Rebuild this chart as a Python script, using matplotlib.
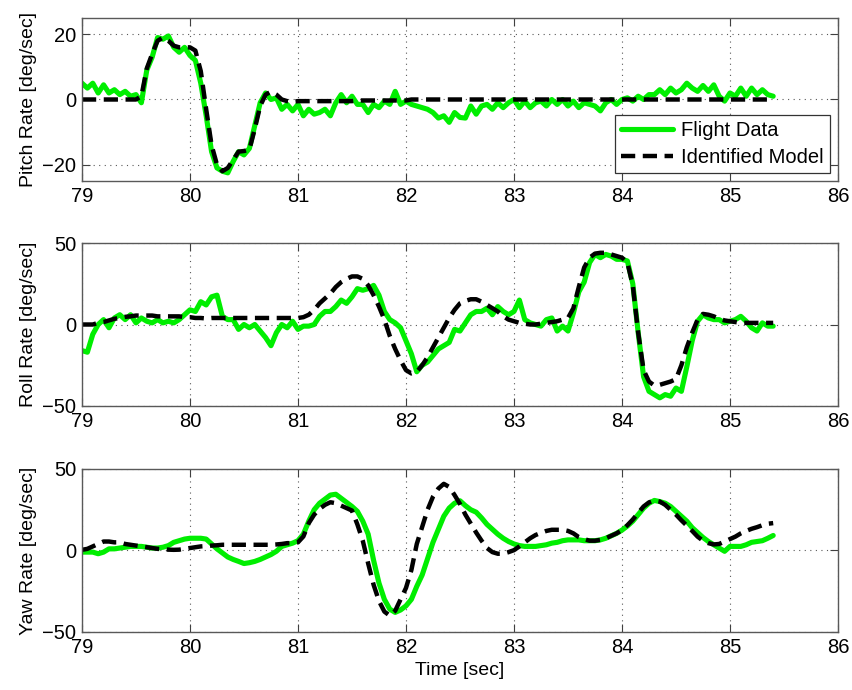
import numpy as np
import matplotlib
matplotlib.use('Agg')
import matplotlib.pyplot as plt

plt.rcParams['font.family'] = ['Liberation Sans', 'DejaVu Sans']

# 采样起点与间隔（秒）
t0 = 79.0
dt = 0.05

# 俯仰角速度 —— 飞行数据 / 辨识模型，每行 0.5 s
pitch_flight = [
    5, 3.5, 5, 2, 4.5, 2, 3, 1.5, 2.5, 1,
    1.5, -1, 9, 13, 19, 18.5, 19.5, 16, 14.5, 16,
    13.5, 12, 5, -5, -16, -21, -22, -22.5, -19, -16,
    -17, -15, -8, -1, 2, 0, 0.5, -3, -1.5, -3.5,
    -1.5, -5, -3, -4.5, -4, -3, -5, -1, 1.5, -1,
    1, -1.5, -1.5, -4, -1.5, -2.5, -0.5, -1.5, 2.5, -1.5,
    -0.5, -1.5, -2, -2.5, -3, -4, -5.7, -5, -7, -4,
    -5.5, -5.7, -2, -4.5, -2, -1.5, -3, -1, -2.5, -1,
    0, -2.5, -0.5, -2.5, -1, -0.5, -2, 0, -1.5, 0,
    -2, -0.5, -2.5, -1, -1.5, -2, -3.5, -1, 0, -1.5,
    0, 0.5, -0.5, 1, 0, 1.5, 1.5, 3, 1.5, 3.5,
    2, 3, 5, 3.5, 2.5, 4.3, 2.5, 4.5, 1, -0.5,
    2, 1, 3.5, 1, 3.5, 1.5, 3, 1.5, 1,
]
pitch_model = [
    0, 0, 0, 0, 0, 0, 0, 0, 0, 0,
    0, 1, 9.5, 14, 18, 19, 18, 16.5, 16, 16,
    16, 15, 8.7, -3, -14, -20, -22, -21, -18.5, -16,
    -15.8, -15.4, -9, -2, 1.5, 2.4, 1.5, 0, -0.5, -0.7,
    -0.5, -0.5, -0.5, -0.5, -0.5, -0.5, -0.5, -0.5, -0.5, -0.5,
    -0.5, -0.3, -0.3, -0.3, -0.3, -0.3, -0.3, -0.3, -0.3, -0.3,
    -0.3, 0, 0, 0, 0, 0, 0, 0, 0, 0,
    0, 0, 0, 0, 0, 0, 0, 0, 0, 0,
    0, 0, 0, 0, 0, 0, 0, 0, 0, 0,
    0, 0, 0, 0, 0, 0, 0, 0, 0, 0,
    0, 0, 0, 0, 0, 0, 0, 0, 0, 0,
    0, 0, 0, 0, 0, 0, 0, 0, 0, 0,
    0, 0, 0, 0, 0, 0, 0, 0, 0,
]

# 滚转角速度
roll_flight = [
    -16, -17, -6, 0, 3, -2, 4, 6, 3, 6,
    1, 4, 2, 1, 3, 1, 2, 1, 3, 6,
    9, 8, 14, 12, 17, 18, 5, 3, 3, -3,
    0, -2, 0, -4, -8, -13, -5, 0, -2, 2,
    -3, -1, -1, 0, 5, 8, 8, 11, 15, 13,
    17, 22, 21, 22, 24, 18, 8, 3, 1, -2,
    -10, -18, -29, -25, -23, -19, -15, -13, -11, -3,
    -4, 1, 6, 8, 8, 10, 6, 11, 8, 6,
    8, 15, 3, 1, 0, -1, 3, 4, -4, -1,
    -4, 7, 20, 26, 38, 43, 41, 43, 42, 40,
    40, 39, 25, -5, -32, -41, -43, -45, -43, -44,
    -39, -41, -26, -10, 2, 6, 4, 3, 3, 1,
    2, 3, 5, 2, -2, -4, 1, -1, -1,
]
roll_model = [
    0, 0, 0, 1, 1.5, 2.5, 3.5, 4, 4.7, 5,
    5.5, 5.5, 5.5, 5.5, 5, 5, 5, 5, 5, 4.5,
    4.5, 4, 4, 3.7, 4, 4, 4, 4, 4, 4,
    4, 4, 4, 4, 4, 4, 4, 4, 4, 4,
    4, 4.5, 6, 9, 13, 16, 19, 23, 26, 28,
    29.5, 29.5, 28, 24, 18, 11, 3, -7, -15, -22,
    -28, -30, -29, -25, -20, -14, -8, -2, 4, 9,
    13, 14.5, 15.5, 15.5, 14, 12, 10, 8, 5, 3,
    2, 1, 0.5, 0, 0, 0.5, 1, 1.5, 2, 3,
    4, 10, 23, 35, 41, 43.5, 44, 44, 43, 42,
    41, 38, 24, -5, -28, -35, -37.5, -37, -36, -35,
    -33.5, -25, -14, -5, 3, 6.5, 6, 5, 3.5, 2.5,
    2, 1.5, 1, 1, 1, 1, 1, 1, 1,
]

# 偏航角速度
yaw_flight = [
    -1, -1, -1, -2, -1, 1, 1, 1.5, 2, 2.5,
    2.5, 2.5, 2, 1.5, 1.5, 2, 3, 5, 6, 7,
    7.5, 7.5, 7.5, 7, 4, 1, -1.5, -4, -5.5, -6.7,
    -8, -7.5, -6.7, -5.5, -4, -2.5, -0.5, 2.5, 3.5, 4.5,
    6, 10, 18, 25, 29, 31.5, 34, 34.5, 32, 29.5,
    27, 24, 18, 10, -6, -20, -30, -36, -38, -36.5,
    -34, -30, -22, -15, -5, 5, 13, 21, 26, 29,
    30.5, 27.5, 25, 23.5, 20, 16, 13, 10, 7.5, 5.5,
    4, 3, 2.5, 2.5, 2.5, 3, 3.5, 4.5, 5, 6,
    6.5, 6.5, 6.5, 6, 6, 6, 6.5, 7.5, 9, 10.5,
    12.5, 15, 18, 22, 26, 29, 30.7, 30, 29, 27,
    24, 21, 18, 14, 11, 8, 5.5, 3.5, 1.5, -0.5,
    2.5, 2.5, 2.5, 3.5, 5, 5.5, 6, 7.5, 9.2,
]
yaw_model = [
    0.4, 1, 2.5, 4, 5.5, 5.5, 5, 5, 4, 3.5,
    3, 2.5, 2, 1.5, 1, 0.8, 0.5, 0.4, 0.5, 1,
    1.5, 2, 2.5, 2.7, 3, 3.2, 3.5, 3.5, 3.5, 3.5,
    3.5, 3.5, 3.5, 3.5, 3.5, 3.5, 3.7, 4, 4.5, 4.5,
    5, 8.6, 16.8, 22, 25.5, 28, 29.6, 29, 27.5, 26,
    24.5, 16, 6, -8, -21, -31, -37.5, -40, -37, -30,
    -23, -12, 4, 14.5, 25, 33, 38, 40.9, 39, 34,
    28.5, 22, 16.5, 11, 6, 1.5, -1, -2, -2, -1,
    0.2, 2.5, 5, 7.5, 9.5, 10.8, 12, 12.7, 12.7, 12.7,
    12, 10.5, 8.2, 7, 6, 6, 6.5, 7.5, 9, 10.5,
    12.5, 15.5, 19, 23, 27, 29.5, 30.7, 30, 28, 25,
    22, 18.5, 15.3, 12, 8.5, 6, 4.5, 3.7, 4, 5.5,
    7, 8.5, 10.5, 12, 13.3, 14.3, 15.5, 16.4, 16.8,
]

panels = [
    ('Pitch Rate [deg/sec]', pitch_flight, pitch_model, (-25, 25), [-20, 0, 20]),
    ('Roll Rate [deg/sec]', roll_flight, roll_model, (-50, 50), [-50, 0, 50]),
    ('Yaw Rate [deg/sec]', yaw_flight, yaw_model, (-50, 50), [-50, 0, 50]),
]
xticks = [79, 80, 81, 82, 83, 84, 85, 86]

fig = plt.figure(figsize=(8.53, 6.9), dpi=100)
bottoms = [0.7377, 0.4116, 0.0841]
axes = []
for (ylabel, fd, md, ylim, yt), b in zip(panels, bottoms):
    ax = fig.add_axes([0.0961, b, 0.8863, 0.2362])
    tf = t0 + dt * np.arange(len(fd))
    tm = t0 + dt * np.arange(len(md))
    ax.plot(tf, fd, color='#00ee00', lw=3.7, label='Flight Data',
            solid_joinstyle='round', solid_capstyle='round')
    ax.plot(tm, md, color='black', lw=3.2, ls=(0, (3.2, 1.7)), label='Identified Model')
    ax.set_xlim(79, 86)
    ax.set_ylim(*ylim)
    ax.set_xticks(xticks)
    ax.set_yticks(yt)
    ax.set_ylabel(ylabel, fontsize=14, labelpad=4)
    ax.grid(True, ls=(0, (1, 4)), color='0.35', lw=0.8)
    ax.tick_params(direction='in', top=True, right=True, length=6, labelsize=14.5,
                   color='0.25', pad=4)
    for s in ax.spines.values():
        s.set_color('0.35')
        s.set_linewidth(1.0)
    axes.append(ax)

leg = axes[0].legend(loc='lower right', fontsize=14.5, handlelength=2.6,
                     fancybox=False, framealpha=1, edgecolor='0.2',
                     borderaxespad=0.4, handletextpad=0.4, labelspacing=0.4,
                     borderpad=0.3)
leg.get_frame().set_linewidth(0.9)

axes[2].set_xlabel('Time [sec]', fontsize=14, labelpad=4)

fig.savefig('out.png', dpi=100)
